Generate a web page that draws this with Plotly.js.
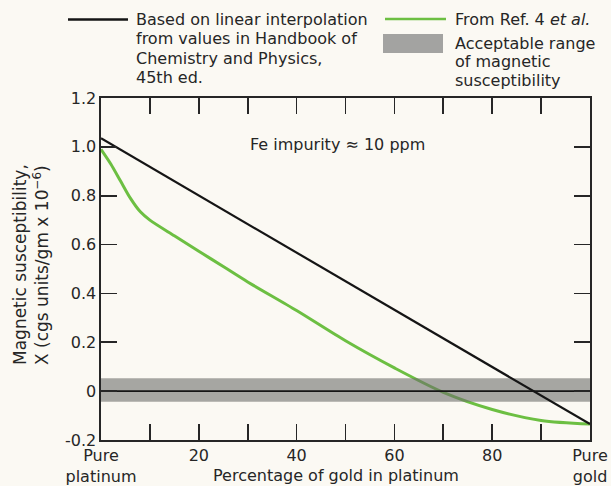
<!DOCTYPE html>
<html><head><meta charset="utf-8">
<script src="https://cdn.plot.ly/plotly-3.0.1.min.js"></script>
<style>html,body{margin:0;padding:0;background:#fbf9f3}</style>
</head><body><div id="chart" style="width:611px;height:486px"></div>
<script>
// ---- data ----
const goldPct = [0, 100];
const handbookChi = [1.035, -0.135];
const refGoldPct = [0, 2, 4, 6, 8, 10, 15, 20, 25, 30, 40, 50, 60, 70, 80, 90, 100];
const refChi = [0.99, 0.93, 0.86, 0.79, 0.735, 0.70, 0.636, 0.573, 0.51, 0.447, 0.33, 0.206, 0.095, -0.005, -0.075, -0.12, -0.135];
const bandLow = -0.043;
const bandHigh = 0.053;
const zeroLevel = 0;
const xTickVals = [0, 10, 20, 30, 40, 50, 60, 70, 80, 90, 100];
const xTickText = ['Pure<br>platinum', '', '20', '', '40', '', '60', '', '80', '', 'Pure<br>gold'];
const yTickVals = [-0.2, 0, 0.2, 0.4, 0.6, 0.8, 1.0, 1.2];
const yTickText = ['-0.2', '0', '0.2', '0.4', '0.6', '0.8', '1.0', '1.2'];
const legendLeft = ['Based on linear interpolation', 'from values in Handbook of', 'Chemistry and Physics,', '45th ed.'];
const legendRight = ['From Ref. 4 <i>et al.</i>', 'Acceptable range', 'of magnetic', 'susceptibility'];

// ---- layout helpers ----
const W = 611, H = 486, L = 101, R = 590, T = 98, B = 440;
const px = x => (x - L) / (R - L);
const py = y => (B - y) / (B - T);
const FONT = 'DejaVu Sans, Arial, sans-serif';
const INK = '#262626';
const GREEN = '#6cbf42';

const xMin = xTickVals[0], xMax = xTickVals[xTickVals.length - 1];

const traces = [
  { x: refGoldPct, y: refChi, mode: 'lines', line: { color: GREEN, width: 3, shape: 'spline', smoothing: 0.8 }, hoverinfo: 'skip' },
  { x: [xMin, xMax, xMax, xMin, xMin], y: [bandLow, bandLow, bandHigh, bandHigh, bandLow], mode: 'lines', fill: 'toself',
    fillcolor: 'rgba(110,110,108,0.6)', line: { width: 0 }, hoverinfo: 'skip' },
  { x: goldPct, y: handbookChi, mode: 'lines', line: { color: '#151515', width: 2.2 }, hoverinfo: 'skip' },
  { x: [xMin, xMax], y: [zeroLevel, zeroLevel], mode: 'lines', line: { color: '#151515', width: 1.8 }, hoverinfo: 'skip' }
];

const ann = [];
const lineYL = [20, 39, 58, 77];
legendLeft.forEach((t, i) => ann.push({ text: t, x: px(134), y: py(lineYL[i]), xanchor: 'left', yanchor: 'middle' }));
const lineYR = [19, 43, 62, 80];
legendRight.forEach((t, i) => ann.push({ text: t, x: px(453), y: py(lineYR[i]), xanchor: 'left', yanchor: 'middle' }));
ann.push({ text: 'Fe impurity ≈ 10 ppm', x: px(337), y: py(144), xanchor: 'center', yanchor: 'middle' });
ann.push({ text: 'Percentage of gold in platinum', x: px(336), y: py(475), xanchor: 'center', yanchor: 'middle' });
ann.push({ text: 'Magnetic susceptibility,<br>X (cgs units/gm x 10<sup>−6</sup>)', x: px(31), y: py(265), xanchor: 'center', yanchor: 'middle', textangle: -90, align: 'left', font: { family: FONT, size: 17, color: INK } });
ann.forEach(a => { a.xref = 'paper'; a.yref = 'paper'; a.showarrow = false; if (!a.font) a.font = { family: FONT, size: 16, color: INK }; });

const shapes = [
  { type: 'line', x0: px(68), x1: px(128), y0: py(19.5), y1: py(19.5), line: { color: '#151515', width: 2.6 } },
  { type: 'line', x0: px(385), x1: px(446), y0: py(19), y1: py(19), line: { color: GREEN, width: 2.6 } },
  { type: 'rect', x0: px(383), x1: px(443), y0: py(53), y1: py(34), fillcolor: '#a3a3a1', line: { width: 0 } }
].map(s => Object.assign(s, { xref: 'paper', yref: 'paper' }));

const axisCommon = {
  showline: true, mirror: 'ticks', linecolor: INK, linewidth: 1.6,
  ticks: 'inside', ticklen: 16, tickwidth: 1.6, tickcolor: INK,
  showgrid: false, zeroline: false, tickmode: 'array',
  tickfont: { family: FONT, size: 16, color: INK }
};

const layout = {
  width: W, height: H,
  margin: { l: L, r: W - R, t: T, b: H - B, pad: 0 },
  paper_bgcolor: '#fbf9f3', plot_bgcolor: '#fbf9f3',
  showlegend: false,
  xaxis: Object.assign({}, axisCommon, { range: [xMin, xMax], tickvals: xTickVals, ticktext: xTickText }),
  yaxis: Object.assign({}, axisCommon, { range: [-0.2, 1.2], tickvals: yTickVals, ticktext: yTickText }),
  annotations: ann,
  shapes: shapes
};

Plotly.newPlot('chart', traces, layout, { staticPlot: true, displayModeBar: false });
</script></body></html>
